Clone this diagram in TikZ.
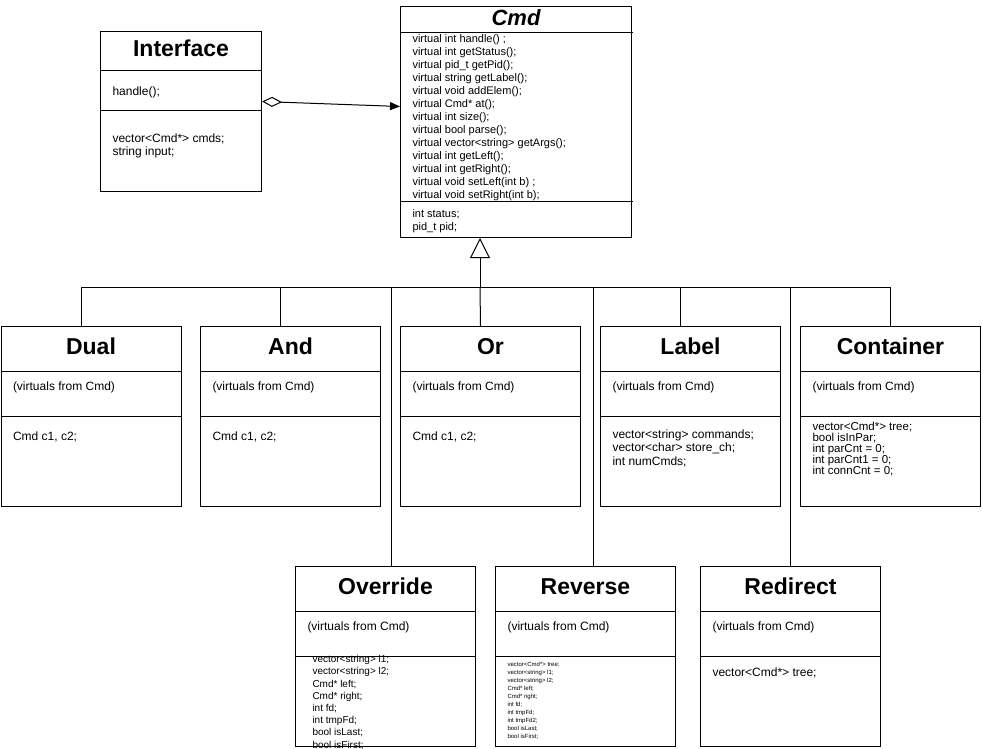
\documentclass[tikz,border=0pt]{standalone}
\usepackage{fontspec}
\setmainfont{Liberation Sans}
\usetikzlibrary{arrows.meta,positioning}

\begin{document}
\begin{tikzpicture}[x=1pt,y=-1pt,line width=1pt,
  class node/.style={draw,rectangle,anchor=north west,minimum width=180pt,minimum height=180pt,inner sep=0pt},
  title node/.style={anchor=north,minimum height=45pt,inner sep=0pt,text height=14pt,text depth=3pt,font=\fontsize{23}{27}\selectfont\bfseries},
  member node/.style={anchor=base west,align=left,inner sep=0pt,font=\fontsize{12}{14}\selectfont}]
\useasboundingbox (0,0) rectangle (983,749);
% base class (member nodes sit on the baseline of their last line)
\node[class node,minimum width=231pt,minimum height=231pt] (cmd) at (400,6) {};
\node[title node,minimum height=27pt,font=\fontsize{22}{26}\selectfont\bfseries\itshape] at (cmd.north) {Cmd};
\draw (cmd.north west) ++(0,27) -- ++(233,0);
\draw (cmd.north west) ++(0,195) -- ++(233,0);
\node[member node,font=\fontsize{11}{13}\selectfont] at ([shift={(12,192)}]cmd.north west) {virtual int handle() ;\\virtual int getStatus();\\virtual pid\_t getPid();\\virtual string getLabel();\\virtual void addElem();\\virtual Cmd* at();\\virtual int size();\\virtual bool parse();\\virtual vector<string> getArgs();\\virtual int getLeft();\\virtual int getRight();\\virtual void setLeft(int b) ;\\virtual void setRight(int b);};
\node[member node,font=\fontsize{11}{13}\selectfont] at ([shift={(12,224)}]cmd.north west) {int status;\\pid\_t pid;};
% interface
\node[class node,minimum width=161pt,minimum height=160pt] (interface) at (100,31) {};
\node[title node,minimum height=40pt] at (interface.north) {Interface};
\draw ([yshift=-40pt]interface.north west) -- ([yshift=-40pt]interface.north east);
\draw ([yshift=-80pt]interface.north west) -- ([yshift=-80pt]interface.north east);
\node[member node] at ([shift={(12,65)}]interface.north west) {handle();};
\node[member node,font=\fontsize{12}{13}\selectfont] at ([shift={(12,125)}]interface.north west) {vector<Cmd*> cmds;\\string input;};
% derived classes
\foreach \n/\x/\y/\t in {dual/0.5/326/Dual,and/200/326/And,or/400/326/Or,label/600/326/Label,container/800/326/Container,override/295/566/Override,reverse/495/566/Reverse,redirect/700/566/Redirect}{
  \node[class node] (\n) at (\x,\y) {};
  \node[title node] at (\n.north) {\t};
  \draw ([yshift=-45pt]\n.north west) -- ([yshift=-45pt]\n.north east);
  \draw ([yshift=-90pt]\n.north west) -- ([yshift=-90pt]\n.north east);
  \node[member node] at ([shift={(12,64)}]\n.north west) {(virtuals from Cmd)};
}
\node[member node] at ([shift={(12,114)}]dual.north west) {Cmd c1, c2;};
\node[member node] at ([shift={(12,114)}]and.north west) {Cmd c1, c2;};
\node[member node] at ([shift={(12,114)}]or.north west) {Cmd c1, c2;};
\node[member node,font=\fontsize{12}{13.5}\selectfont] at ([shift={(12,139)}]label.north west) {vector<string> commands;\\vector<char> store\_ch;\\int numCmds;};
\node[member node,font={\fontsize{11.5}{11}\selectfont\lineskiplimit=-5pt\relax}] at ([shift={(12,148)}]container.north west) {vector<Cmd*> tree;\\bool isInPar;\\int parCnt = 0;\\int parCnt1 = 0;\\int connCnt = 0;};
\node[member node,font=\fontsize{10}{12.2}\selectfont] at ([shift={(17,182)}]override.north west) {vector<string> l1;\\vector<string> l2;\\Cmd* left;\\Cmd* right;\\int fd;\\int tmpFd;\\bool isLast;\\bool isFirst;};
\node[member node,font=\fontsize{6}{7.9}\selectfont] at ([shift={(12,172)}]reverse.north west) {vector<Cmd*> tree;\\vector<string> l1;\\vector<string> l2;\\Cmd* left;\\Cmd* right;\\int fd;\\int tmpFd;\\int tmpFd2;\\bool isLast;\\bool isFirst;};
\node[member node] at ([shift={(12,110)}]redirect.north west) {vector<Cmd*> tree;};
% connectors
\draw[{Diamond[open,length=20pt,width=10pt]}-{Triangle[length=10pt,width=8pt]}] ([yshift=10pt]interface.east) -- ([yshift=15.5pt]cmd.west);
\coordinate (bus) at (480,287);
\draw[-{Triangle[open,length=20pt,width=20pt]}] (bus) -- (bus |- cmd.south);
\draw ([xshift=-10pt]dual.north) |- (bus);
\draw ([xshift=-10pt]and.north) |- (bus);
\draw ([xshift=-10pt]or.north) -- (bus);
\draw ([xshift=-10pt]label.north) |- (bus);
\draw (container.north) |- (bus);
\draw ([xshift=6pt]override.north) |- (bus);
\draw ([xshift=8pt]reverse.north) |- (bus);
\draw (redirect.north) |- (bus);
\end{tikzpicture}
\end{document}
